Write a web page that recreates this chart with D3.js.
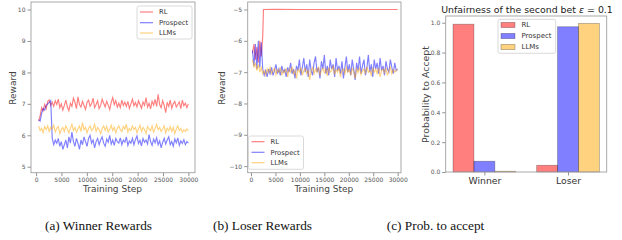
<!DOCTYPE html>
<html>
<head>
<meta charset="utf-8">
<script src="https://cdn.jsdelivr.net/npm/d3@7"></script>
<style>
  body { margin: 0; background: #fff; }
  svg { display: block; }
  text { font-family: "DejaVu Sans", sans-serif; }
</style>
</head>
<body>
<div id="chart"></div>
<script>
// ---------------- data ----------------
const seriesNames = ["RL", "Prospect", "LLMs"];
const seriesColors = ["#ff0000", "#0000ff", "#ffa500"];

// (a) winner rewards, steps 500 -> 30000 evenly
const winnerRL = [6.45, 6.62, 6.88, 6.78, 6.98, 6.85, 7.08, 7.12, 6.95, 7.05, 6.92, 7.1, 6.98, 7.15, 6.88, 7.0, 6.8, 6.95, 7.12, 6.9,
  6.78, 7.02, 6.92, 7.18, 7.05, 6.85, 7.22, 6.98, 6.9, 7.08, 6.95, 6.82, 7.05, 7.12, 6.92, 7.0, 7.18, 6.88, 6.98, 7.1,
  6.85, 6.95, 7.15, 7.02, 6.9, 7.08, 6.96, 6.82, 7.05, 7.2, 6.98, 7.1, 6.9, 7.02, 6.88, 7.12, 6.95, 7.05, 6.92, 7.08,
  6.85, 7.0, 7.15, 6.94, 7.04, 6.9, 7.1, 6.98, 6.86, 7.06, 6.95, 7.2, 6.9, 7.02, 6.84, 7.08, 6.96, 7.14, 6.92, 7.3,
  6.98, 6.88, 7.1, 6.95, 6.72, 7.05, 6.92, 7.12, 6.86, 7.0, 7.08, 6.9, 6.98, 7.06, 6.85, 7.12, 6.94, 7.02, 6.88, 7.0];
const winnerProspect = [6.5, 6.45, 6.7, 6.85, 6.8, 6.95, 7.0, 7.05, 7.1, 5.9, 5.7, 5.85, 5.75, 5.9, 5.65, 5.8, 5.55, 5.7, 5.85, 5.6,
  5.95, 5.75, 6.1, 5.8, 5.65, 5.9, 5.75, 5.55, 5.85, 5.7, 5.95, 5.8, 5.65, 5.9, 6.0, 5.75, 5.85, 5.6, 5.8, 5.9,
  5.7, 5.85, 5.95, 5.75, 5.65, 5.88, 5.78, 6.0, 5.72, 5.85, 5.68, 5.9, 5.8, 5.75, 5.92, 5.7, 5.85, 5.78, 5.95, 5.68,
  5.82, 5.75, 5.9, 5.7, 5.86, 5.98, 5.74, 5.84, 5.66, 5.9, 5.78, 5.85, 5.72, 6.02, 5.8, 5.68, 5.88, 5.76, 5.92, 5.7,
  5.82, 5.6, 5.78, 5.9, 5.72, 5.85, 5.95, 5.7, 5.8, 5.65, 5.88, 5.76, 5.92, 5.68, 5.82, 5.74, 5.86, 5.7, 5.8, 5.75];
const winnerLLMs = [6.3, 6.15, 6.22, 6.08, 6.28, 6.18, 6.3, 6.12, 6.25, 6.2, 6.32, 6.1, 6.22, 6.28, 6.05, 6.18, 6.25, 6.12, 6.3, 6.2,
  6.08, 6.22, 6.35, 6.15, 6.25, 6.1, 6.2, 6.3, 6.12, 6.4, 6.18, 6.25, 6.08, 6.22, 6.3, 6.15, 6.2, 6.35, 6.12, 6.25,
  6.18, 6.05, 6.22, 6.3, 6.15, 6.28, 6.1, 6.2, 6.32, 6.15, 6.25, 6.08, 6.22, 6.3, 6.18, 6.12, 6.28, 6.2, 6.35, 6.1,
  6.22, 6.15, 6.3, 6.18, 6.25, 6.08, 6.2, 6.32, 6.12, 6.25, 6.18, 6.05, 6.28, 6.2, 6.15, 6.3, 6.1, 6.22, 6.35, 6.18,
  6.25, 6.12, 6.2, 6.3, 6.08, 6.22, 6.15, 6.28, 6.12, 6.25, 6.05, 6.2, 6.3, 6.15, 6.22, 6.1, 6.18, 6.12, 6.2, 6.15];

// (b) loser rewards, steps 300 -> 30000 evenly (RL given as [step, value])
const loserRL = [[300, -6.4], [600, -6.1], [900, -6.6], [1200, -6.2], [1500, -6.7], [1800, -6.0], [2100, -6.5],
  [2400, -5.85], [2550, -5.0], [5000, -4.99], [10000, -5.0], [20000, -5.0], [30000, -5.0]];
const loserProspect = [-6.3, -6.8, -6.1, -6.9, -6.0, -6.85, -6.05, -6.9, -7.1, -6.95, -7.15, -6.9, -7.05, -6.85, -7.1, -6.95, -6.75, -7.05, -6.9, -7.1,
  -6.8, -7.0, -6.92, -7.15, -6.85, -7.0, -6.7, -7.05, -6.9, -7.2, -6.8, -6.95, -6.6, -7.1, -6.85, -6.55, -7.0, -6.75, -7.15, -6.6,
  -6.95, -7.1, -6.7, -6.5, -7.0, -6.85, -7.2, -6.65, -6.9, -6.45, -7.05, -6.8, -7.1, -6.6, -6.9, -6.75, -7.15, -6.55, -6.95, -6.8,
  -7.05, -6.65, -7.2, -6.85, -6.5, -7.0, -6.75, -7.1, -6.6, -6.9, -7.25, -6.7, -6.95, -6.5, -7.05, -6.8, -6.6, -7.1, -6.85, -6.45,
  -7.0, -6.75, -7.15, -6.6, -6.9, -6.7, -7.05, -6.55, -6.95, -6.8, -7.1, -6.65, -6.9, -7.0, -6.6, -6.85, -7.05, -6.7, -6.95, -6.9];
const loserLLMs = [-6.6, -6.85, -6.7, -6.95, -6.75, -7.0, -6.85, -7.05, -6.95, -7.1, -6.9, -7.0, -6.85, -7.05, -6.95, -6.88, -7.08, -6.92, -7.0, -6.85,
  -7.1, -6.95, -7.02, -6.88, -7.15, -6.9, -7.0, -6.82, -7.05, -6.95, -7.2, -6.9, -7.0, -6.85, -7.1, -6.95, -6.88, -7.05, -6.92, -7.25,
  -6.95, -6.85, -7.05, -6.9, -7.0, -6.82, -7.1, -6.95, -6.88, -7.02, -6.9, -7.12, -6.85, -7.0, -6.95, -6.8, -7.08, -6.92, -7.0, -6.86,
  -7.15, -6.95, -6.9, -7.05, -6.85, -7.0, -6.92, -7.1, -6.88, -6.98, -7.2, -6.9, -7.02, -6.85, -7.08, -6.95, -6.9, -7.05, -6.82, -7.0,
  -6.94, -7.12, -6.88, -7.0, -6.9, -7.05, -6.86, -7.15, -6.95, -6.9, -7.02, -6.88, -7.1, -6.94, -6.85, -7.05, -6.92, -7.0, -6.95, -6.9];

// (c) probability to accept
const groups = ["Winner", "Loser"];
const probRL = [0.99, 0.045];
const probProspect = [0.072, 0.973];
const probLLMs = [0.005, 0.995];

const stepTicks = [0, 5000, 10000, 15000, 20000, 25000, 30000];
const winnerTicks = [5, 6, 7, 8, 9, 10];
const loserTicks = [-10, -9, -8, -7, -6, -5];
const probTicks = [0, 0.2, 0.4, 0.6, 0.8, 1.0];
const captions = ["(a) Winner Rewards", "(b) Loser Rewards", "(c) Prob. to accept"];

// ---------------- drawing ----------------
const svg = d3.select("#chart").append("svg").attr("width", 622).attr("height", 240);

function withSteps(values, first, last) {
  const n = values.length;
  return values.map((v, i) => [first + i * (last - first) / (n - 1), v]);
}

function styleAxis(g, size) {
  g.selectAll(".domain").remove();
  g.selectAll(".tick line").attr("stroke", "#777").attr("stroke-width", 0.8);
  g.selectAll(".tick text").attr("fill", "#555").style("font-size", size + "px")
    .style("font-family", "DejaVu Sans, sans-serif");
}

function frame(box) {
  svg.append("rect").attr("x", box.left).attr("y", box.top)
    .attr("width", box.right - box.left).attr("height", box.bottom - box.top)
    .attr("fill", "none").attr("stroke", "#a0a0a0").attr("stroke-width", 0.9);
}

function legend(x, y, w, h, rowY, kind) {
  const g = svg.append("g");
  g.append("rect").attr("x", x).attr("y", y).attr("width", w).attr("height", h)
    .attr("rx", 2).attr("fill", "#fff").attr("fill-opacity", 0.85)
    .attr("stroke", "#d0d0d0").attr("stroke-width", 0.8);
  seriesNames.forEach((name, i) => {
    const cy = y + rowY[i];
    if (kind === "line") {
      g.append("line").attr("x1", x + 3).attr("x2", x + 16).attr("y1", cy).attr("y2", cy)
        .attr("stroke", seriesColors[i]).attr("stroke-opacity", 0.5).attr("stroke-width", 1.2);
      g.append("text").attr("x", x + 22).attr("y", cy).attr("dy", "0.35em")
        .style("font-size", "6.8px").attr("fill", "#333").text(name);
    } else {
      g.append("rect").attr("x", x + 3).attr("y", cy - 2.6).attr("width", 14).attr("height", 5.2)
        .attr("fill", seriesColors[i]).attr("fill-opacity", 0.5)
        .attr("stroke", "#000").attr("stroke-opacity", 0.3).attr("stroke-width", 0.8);
      g.append("text").attr("x", x + 23.5).attr("y", cy).attr("dy", "0.35em")
        .style("font-size", "7px").attr("fill", "#333").text(name);
    }
  });
}

function linePanel(box, xDomain, yDomain, yTicks, series) {
  const x = d3.scaleLinear().domain(xDomain).range([box.left, box.right]);
  const y = d3.scaleLinear().domain(yDomain).range([box.bottom, box.top]);
  const line = d3.line().x(d => x(d[0])).y(d => y(d[1]));

  series.forEach((s, i) => {
    svg.append("path").datum(s).attr("d", line).attr("fill", "none")
      .attr("stroke", seriesColors[i]).attr("stroke-opacity", 0.5).attr("stroke-width", 1.15);
  });

  svg.append("g").attr("transform", `translate(0,${box.bottom})`)
    .call(d3.axisBottom(x).tickValues(stepTicks).tickSize(3.5).tickPadding(2).tickFormat(d3.format("d")))
    .call(g => styleAxis(g, 6));
  svg.append("g").attr("transform", `translate(${box.left},0)`)
    .call(d3.axisLeft(y).tickValues(yTicks).tickSize(3.5).tickPadding(2)
      .tickFormat(d => d < 0 ? "\u2212" + Math.abs(d) : d))
    .call(g => styleAxis(g, 6));
  frame(box);

  svg.append("text").attr("x", (box.left + box.right) / 2 - 0.5).attr("y", 191.5)
    .attr("text-anchor", "middle").style("font-size", "9px").attr("fill", "#444").text("Training Step");
  return { x, y };
}

// panel a
const boxA = { left: 31, right: 195, top: 2, bottom: 172.7 };
linePanel(boxA, [-1000, 31300], [4.81, 10.24], winnerTicks, [
  withSteps(winnerRL, 500, 30000),
  withSteps(winnerProspect, 500, 30000),
  withSteps(winnerLLMs, 500, 30000)
]);
svg.append("text").attr("transform", "translate(15.5,88) rotate(-90)")
  .attr("text-anchor", "middle").style("font-size", "9px").attr("fill", "#444").text("Reward");
legend(137, 6, 55, 33, [6, 16.7, 27], "line");

// panel b
const boxB = { left: 247.7, right: 401, top: 2, bottom: 172.7 };
linePanel(boxB, [-675, 30675], [-10.21, -4.76], loserTicks, [
  loserRL,
  withSteps(loserProspect, 300, 30000),
  withSteps(loserLLMs, 300, 30000)
]);
svg.append("text").attr("transform", "translate(225,88) rotate(-90)")
  .attr("text-anchor", "middle").style("font-size", "9px").attr("fill", "#444").text("Reward");
legend(248.5, 136, 55, 33.3, [5.7, 16.3, 26.7], "line");

// panel c
const boxC = { left: 445.7, right: 606.7, top: 16, bottom: 172 };
const xc = d3.scaleLinear().domain([-0.4625, 1.4625]).range([boxC.left, boxC.right]);
const yc = d3.scaleLinear().domain([0, 1.045]).range([boxC.bottom, boxC.top]);
const barW = 0.25;
[probRL, probProspect, probLLMs].forEach((vals, i) => {
  svg.append("g").selectAll("rect").data(vals).join("rect")
    .attr("x", (d, j) => xc(j + (i - 1) * barW - barW / 2))
    .attr("width", xc(barW) - xc(0))
    .attr("y", d => yc(d))
    .attr("height", d => yc(0) - yc(d))
    .attr("fill", seriesColors[i]).attr("fill-opacity", 0.5)
    .attr("stroke", "#000").attr("stroke-opacity", 0.3).attr("stroke-width", 0.8);
});
svg.append("g").attr("transform", `translate(0,${boxC.bottom})`)
  .call(d3.axisBottom(xc).tickValues([0, 1]).tickSize(3.5).tickPadding(2).tickFormat(i => groups[i]))
  .call(g => styleAxis(g, 9.3))
  .call(g => g.selectAll(".tick text").attr("fill", "#333"));
svg.append("g").attr("transform", `translate(${boxC.left},0)`)
  .call(d3.axisLeft(yc).tickValues(probTicks).tickSize(3.5).tickPadding(2).tickFormat(d3.format(".1f")))
  .call(g => styleAxis(g, 6));
frame(boxC);
svg.append("text").attr("transform", "translate(428.5,94.5) rotate(-90)")
  .attr("text-anchor", "middle").style("font-size", "9.4px").attr("fill", "#444").text("Probability to Accept");
const title = svg.append("text").attr("x", 527).attr("y", 12.5).attr("text-anchor", "middle")
  .style("font-size", "9.4px").attr("fill", "#222");
title.append("tspan").text("Unfairness of the second bet ");
title.append("tspan").style("font-style", "italic").text("\u03b5");
title.append("tspan").text(" = 0.1");
legend(498, 19.3, 57.7, 34, [5.7, 16.7, 27.7], "patch");

// captions
[98.5, 262.5, 435.5].forEach((cx, i) => {
  svg.append("text").attr("x", cx).attr("y", 229.5).attr("text-anchor", "middle")
    .style("font-family", "Liberation Serif, Times New Roman, serif").style("font-size", "13.3px")
    .attr("fill", "#111").text(captions[i]);
});
</script>
</body>
</html>
